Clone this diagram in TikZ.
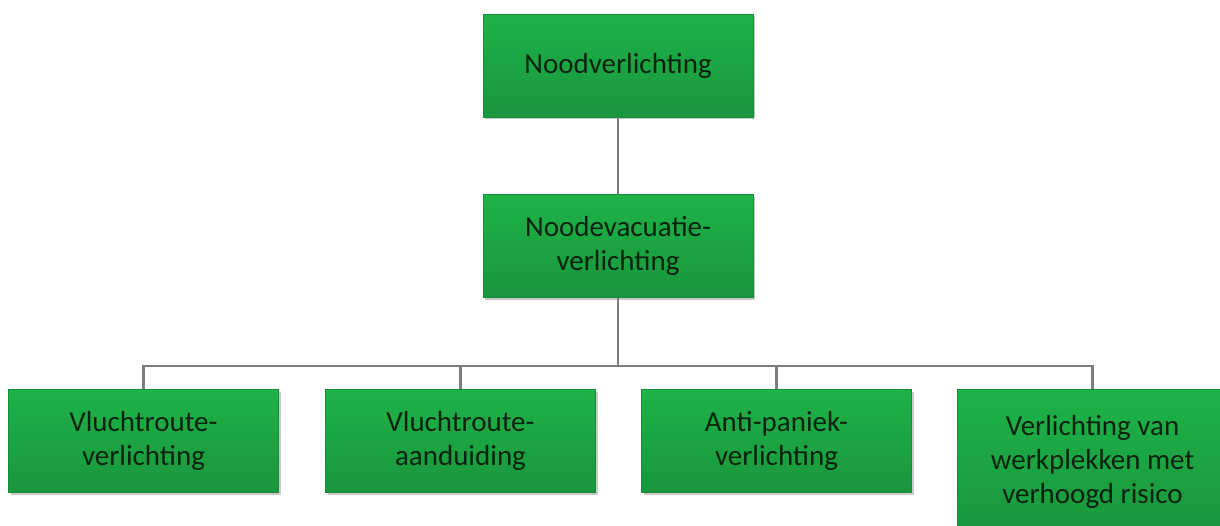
\documentclass[tikz,border=0pt]{standalone}
\usepackage{fontspec}
\setmainfont{Carlito}
\usetikzlibrary{shadows}
\definecolor{gtop}{RGB}{30,178,72}
\definecolor{gbot}{RGB}{25,150,60}
\definecolor{gborder}{RGB}{22,140,55}
\definecolor{gtext}{RGB}{10,35,15}
\definecolor{conn}{RGB}{125,125,125}
\tikzset{
  box/.style={rectangle, draw=gborder, line width=0.8pt, top color=gtop, bottom color=gbot,
    minimum width=270pt, minimum height=103pt, align=center, text=gtext,
    font=\fontsize{29}{34}\selectfont, inner sep=0pt,
    drop shadow={shadow xshift=2pt, shadow yshift=-2pt, opacity=0.35, fill=black!60}},
  link/.style={draw=conn, line width=2.6pt}
}
\begin{document}
\begin{tikzpicture}[x=1pt,y=-1pt]
\useasboundingbox (0,0) rectangle (1220,525);
\node[box] (top) at (618,65.5) {Noodverlichting};
\node[box] (mid) at (618,246) {Noodevacuatie-\\verlichting};
\node[box] (b1) at (143.5,441) {Vluchtroute-\\verlichting};
\node[box] (b2) at (460.5,441) {Vluchtroute-\\aanduiding};
\node[box] (b3) at (776.5,441) {Anti-paniek-\\verlichting};
\node[box, minimum height=146pt, anchor=north] (b4) at (1092.5,389) {Verlichting van\\werkplekken met\\verhoogd risico};
\coordinate (bus) at (618,366);
\draw[link] (top.south) -- (mid.north);
\draw[link] (mid.south) -- (bus);
\draw[link] (b1.north) |- (bus);
\draw[link] (b2.north) |- (bus);
\draw[link] (b3.north) |- (bus);
\draw[link] (b4.north) |- (bus);
\end{tikzpicture}
\end{document}
